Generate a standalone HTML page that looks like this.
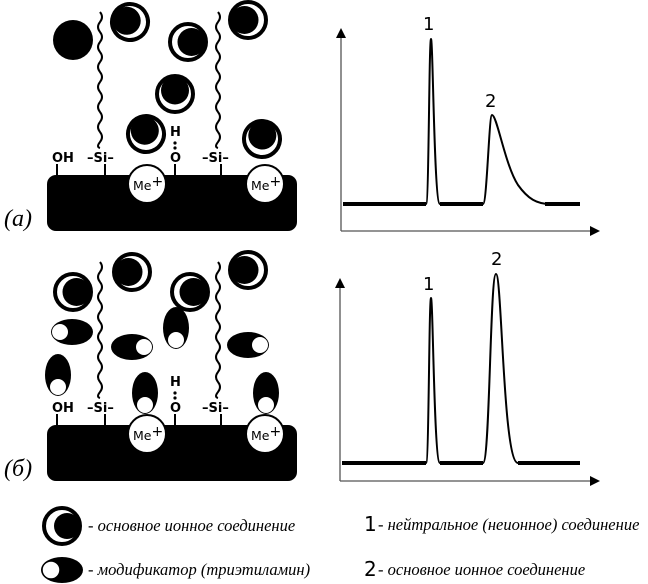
<!DOCTYPE html>
<html><head><meta charset="utf-8"><style>
html,body{margin:0;padding:0;background:#fff}
svg{display:block}
.lab{font-family:"DejaVu Sans","Liberation Sans",sans-serif;font-size:13px;font-weight:bold}
.cur{font-family:"Liberation Serif",serif;font-style:italic;font-size:16.5px}
</style></head><body>
<svg width="648" height="584" viewBox="0 0 648 584" xmlns="http://www.w3.org/2000/svg">
<defs>
<g id="ion"><circle r="18" fill="#fff" stroke="#000" stroke-width="4"/><circle cx="-3.5" cy="0" r="14" fill="#000"/></g>
<g id="modh"><ellipse rx="21" ry="13" fill="#000"/><circle cx="12" cy="0" r="8" fill="#fff"/></g>
<path id="wave" d="M0,0 q4,5 0,10 t0,10 t0,10 t0,10 t0,10 t0,10 t0,10 t0,10 t0,10 t0,10 t0,10 t0,10 t0,10 t0,6" fill="none" stroke="#000" stroke-width="2"/>
<g id="surf">
<rect x="47" y="175" width="250" height="56" rx="9" fill="#000"/>
<line x1="57" y1="164" x2="57" y2="176" stroke="#000" stroke-width="2"/>
<line x1="105" y1="164" x2="105" y2="176" stroke="#000" stroke-width="2"/>
<line x1="175" y1="164" x2="175" y2="176" stroke="#000" stroke-width="2"/>
<line x1="221" y1="164" x2="221" y2="176" stroke="#000" stroke-width="2"/>
<text class="lab" x="52" y="162">OH</text>
<text class="lab" x="87" y="162">–Si–</text>
<text class="lab" x="202" y="162">–Si–</text>
<text class="lab" x="170" y="162">O</text>
<text class="lab" x="170" y="136">H</text>
<circle cx="175" cy="143" r="1.6"/><circle cx="175" cy="148" r="1.6"/>
<circle cx="147" cy="184" r="19" fill="#fff" stroke="#000" stroke-width="2"/>
<circle cx="265" cy="184" r="19" fill="#fff" stroke="#000" stroke-width="2"/>
<text x="133" y="190" font-family="DejaVu Sans,sans-serif" font-size="12.5">Me<tspan font-size="14" dy="-4">+</tspan></text>
<text x="251" y="190" font-family="DejaVu Sans,sans-serif" font-size="12.5">Me<tspan font-size="14" dy="-4">+</tspan></text>
<use href="#wave" x="100" y="12"/>
<use href="#wave" x="218" y="12"/>
</g>
<marker id="ar" markerWidth="10" markerHeight="10" refX="8" refY="5" orient="auto" markerUnits="userSpaceOnUse"><path d="M0,0 L10,5 L0,10 Z"/></marker>
</defs>

<!-- panel a -->
<use href="#surf"/>
<circle cx="73" cy="40" r="20" fill="#000"/>
<use href="#ion" transform="translate(130,22) rotate(20)"/>
<use href="#ion" transform="translate(188,42) rotate(180)"/>
<use href="#ion" transform="translate(248,20) rotate(0)"/>
<use href="#ion" transform="translate(175,94) rotate(90)"/>
<use href="#ion" transform="translate(146,134) rotate(70)"/>
<use href="#ion" transform="translate(262,139) rotate(95)"/>
<text x="4" y="226" font-family="Liberation Serif,serif" font-style="italic" font-size="24">(a)</text>

<!-- panel b -->
<g transform="translate(0,250)">
<use href="#surf"/>
<use href="#ion" transform="translate(73,42) rotate(180)"/>
<use href="#ion" transform="translate(132,22) rotate(0)"/>
<use href="#ion" transform="translate(190,42) rotate(180)"/>
<use href="#ion" transform="translate(248,20) rotate(0)"/>
<use href="#modh" transform="translate(72,82) rotate(180)"/>
<use href="#modh" transform="translate(132,97)"/>
<use href="#modh" transform="translate(176,78) rotate(90)"/>
<use href="#modh" transform="translate(248,95)"/>
<use href="#modh" transform="translate(58,125) rotate(90)"/>
<use href="#modh" transform="translate(145,143) rotate(90)"/>
<use href="#modh" transform="translate(266,143) rotate(90)"/>
<text x="4" y="226" font-family="Liberation Serif,serif" font-style="italic" font-size="24">(б)</text>
</g>

<!-- chart a -->
<line x1="341" y1="231" x2="341" y2="30" stroke="#555" stroke-width="1.3" marker-end="url(#ar)"/>
<line x1="341" y1="231" x2="598" y2="231" stroke="#555" stroke-width="1.3" marker-end="url(#ar)"/>
<path d="M343,204 L426,204 M440,204 L483,204 M545,204 L580,204" stroke="#000" stroke-width="4" fill="none"/>
<path d="M426,204 C429,204 429,39 431,39 C433,39 434,204 440,204 M483,204 C487,204 489,115 492,115 C497,115 505,165 518,185 C528,199 537,204 550,204" stroke="#000" stroke-width="2" fill="none"/>
<text x="423" y="30" font-family="DejaVu Sans,sans-serif" font-size="18">1</text>
<text x="485" y="107" font-family="DejaVu Sans,sans-serif" font-size="18">2</text>

<!-- chart b -->
<line x1="340" y1="481" x2="340" y2="280" stroke="#555" stroke-width="1.3" marker-end="url(#ar)"/>
<line x1="340" y1="481" x2="598" y2="481" stroke="#555" stroke-width="1.3" marker-end="url(#ar)"/>
<path d="M342,463 L426,463 M440,463 L483,463 M518,463 L580,463" stroke="#000" stroke-width="4" fill="none"/>
<path d="M426,463 C429,463 429,298 431,298 C433,298 434,463 440,463 M483,463 C490,463 490,274 496,274 C502,274 503,463 518,463" stroke="#000" stroke-width="2" fill="none"/>
<text x="423" y="290" font-family="DejaVu Sans,sans-serif" font-size="18">1</text>
<text x="491" y="265" font-family="DejaVu Sans,sans-serif" font-size="18">2</text>

<!-- legend -->
<g transform="translate(62,526)"><circle r="18" fill="#fff" stroke="#000" stroke-width="4"/><circle cx="5" r="13" fill="#000"/></g>
<text class="cur" x="88" y="531">- основное ионное соединение</text>
<g transform="translate(62,570)"><ellipse rx="21" ry="13" fill="#000"/><circle cx="-11" r="9" fill="#fff" stroke="#000" stroke-width="1.5"/></g>
<text class="cur" x="88" y="575">- модификатор (триэтиламин)</text>
<text x="364" y="531" font-family="DejaVu Sans,sans-serif" font-size="20">1</text>
<text class="cur" x="378" y="530">- нейтральное (неионное) соединение</text>
<text x="364" y="576" font-family="DejaVu Sans,sans-serif" font-size="20">2</text>
<text class="cur" x="378" y="575">- основное ионное соединение</text>
</svg>
</body></html>
